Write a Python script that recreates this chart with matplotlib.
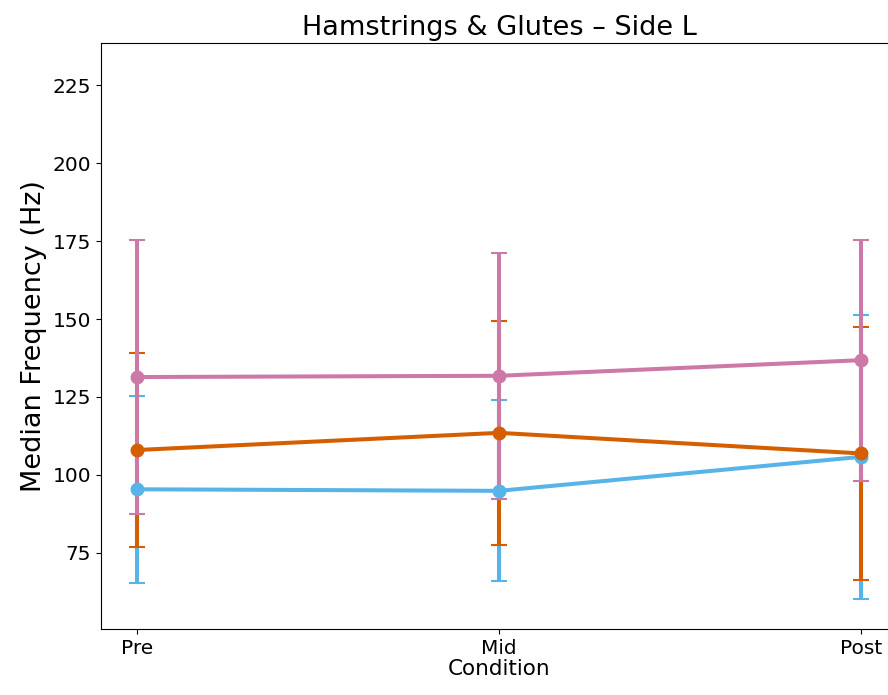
import matplotlib.pyplot as plt

conditions = ["Pre", "Mid", "Post"]

# median frequency (Hz) and error bar half-widths per muscle group
blue_mean = [95.4, 94.9, 105.8]
blue_err = [30.0, 29.0, 45.5]
orange_mean = [108.0, 113.5, 106.9]
orange_err = [31.0, 36.0, 40.6]
pink_mean = [131.4, 131.8, 136.8]
pink_err = [44.0, 39.4, 38.7]

series = [
    (blue_mean, blue_err, "#56B4E9"),
    (orange_mean, orange_err, "#D55E00"),
    (pink_mean, pink_err, "#CC79A7"),
]


def main():
    fig = plt.figure(figsize=(8.88, 6.95), dpi=100)
    ax = fig.add_axes([0.1137, 0.095, 0.8964, 0.843])

    x = list(range(len(conditions)))

    # error bars first, then the lines and markers on top
    for mean, err, color in series:
        ax.errorbar(x, mean, yerr=err, fmt="none", ecolor=color,
                    elinewidth=2.9, capsize=6, capthick=1.5, zorder=2)
    for mean, err, color in series:
        ax.plot(x, mean, marker="o", color=color, linewidth=2.9,
                markersize=9, zorder=3)

    ax.set_xticks(x)
    ax.set_xticklabels(conditions)
    ax.set_xlim(-0.1, 2.1)
    ax.set_ylim(50.6, 238.5)
    ax.set_yticks([75, 100, 125, 150, 175, 200, 225])
    ax.tick_params(labelsize=14.5)
    ax.set_xlabel("Condition", fontsize=15.5, labelpad=1)
    ax.set_ylabel("Median Frequency (Hz)", fontsize=19.5)
    ax.set_title("Hamstrings & Glutes – Side L", fontsize=19.5)

    fig.savefig("out.png", dpi=100)


if __name__ == "__main__":
    main()
